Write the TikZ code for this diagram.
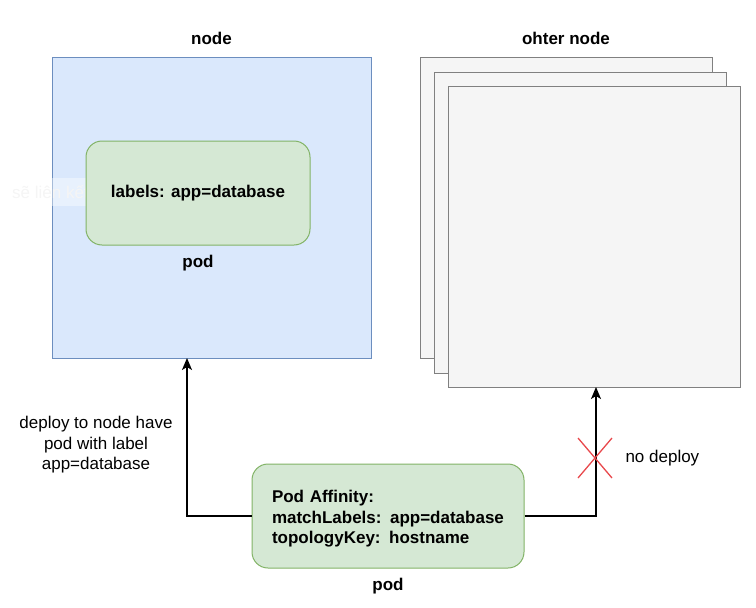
\documentclass[tikz,border=0pt]{standalone}
\usepackage{fontspec}
\setmainfont{Liberation Sans}
\usetikzlibrary{arrows.meta, positioning, calc}

\definecolor{nodeblue}{HTML}{DAE8FC}
\definecolor{nodeblueline}{HTML}{6C8EBF}
\definecolor{podgreen}{HTML}{D5E8D4}
\definecolor{podgreenline}{HTML}{82B366}
\definecolor{othergray}{HTML}{F5F5F5}
\definecolor{otherline}{HTML}{808080}
\definecolor{crossred}{HTML}{E8484C}

\begin{document}
\begin{tikzpicture}[x=1pt, y=-1pt, >={Stealth[length=12pt, width=10pt, inset=3pt]},
	every node/.style={font=\fontsize{17}{20.5}\selectfont},
	hostbox/.style={draw=nodeblueline, fill=nodeblue, line width=1pt, minimum width=319pt, minimum height=301pt},
	otherbox/.style={draw=otherline, fill=othergray, line width=1pt, minimum width=292pt, minimum height=301pt},
	podbox/.style={draw=podgreenline, fill=podgreen, line width=1pt, rounded corners=16pt, minimum height=104pt},
	title/.style={font=\fontsize{17}{20}\selectfont\bfseries},
	link/.style={->, line width=1.3pt}]

	\useasboundingbox (0,0) rectangle (756,608);

	% target node with the database pod
	\node [hostbox] (host) at (211.5,207.5) {};
	\node [title, above=8pt of host] (hosttitle) {node};

	% faint overlay
	\node [fill=white, fill opacity=0.4, text opacity=1, text=black!4, minimum height=28pt, inner sep=0pt, anchor=west] (overlay) at (0,192) {\makebox[86pt][l]{\hspace*{12pt}sẽ liên kết đến}};

	\node [podbox, minimum width=224pt] (dbpod) at (198,193) {\textbf{labels: app=database}};
	\node [title, below=6pt of dbpod] (dbpodtitle) {pod};

	% the other nodes
	\node [otherbox] (back) at (566,207.5) {};
	\node [otherbox] (middle) at (580,222.5) {};
	\node [otherbox] (front) at (594.5,236.5) {};
	\node [title, above=8pt of back] (othertitle) {ohter node};

	% pod with affinity rule
	\node [podbox, minimum width=272pt, align=left, text width=232pt] (affpod) at (388,516)
		{\rule{0pt}{18pt}\textbf{Pod Affinity:}\\ \textbf{matchLabels: app=database}\\ \textbf{topologyKey: hostname}};
	\node [title, below=6pt of affpod] (affpodtitle) {pod};

	\coordinate (hostin) at (187,358);
	\coordinate (otherin) at (596,387);
	\draw [link] (affpod.west) -| (hostin);
	\draw [link] (affpod.east) -| (otherin);

	\node [align=center] (deploylabel) at (96,445) {deploy to node have\\pod with label\\app=database};

	% no deploy mark
	\coordinate (nodeploy) at (595,458);
	\draw [crossred, line width=1.3pt] ($(nodeploy)+(-17,-20)$) -- ($(nodeploy)+(17,20)$)
		($(nodeploy)+(-17,20)$) -- ($(nodeploy)+(17,-20)$);
	\node [anchor=west] (nodeploylabel) at (622,458) {no deploy};

\end{tikzpicture}
\end{document}
